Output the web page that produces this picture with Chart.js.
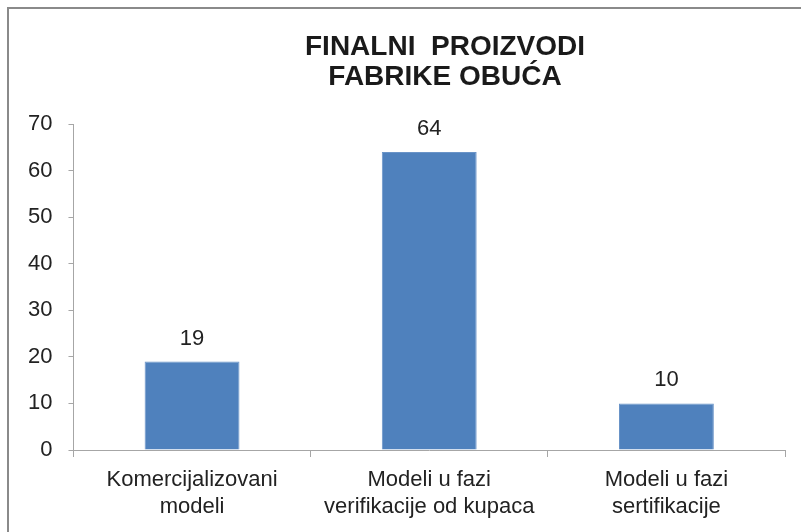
<!DOCTYPE html>
<html>
<head>
<meta charset="utf-8">
<script src="https://cdn.jsdelivr.net/npm/chart.js@4"></script>
<style>
    html, body { margin: 0; padding: 0; overflow: hidden; background: #fff; }
    #okvir { position: absolute; left: 7px; top: 7px; width: 830px; height: 560px; border: 2px solid #8a8a8a; }
    #platno { position: absolute; left: 0; top: 0; width: 801px; height: 532px; }
</style>
</head>
<body>
<div id="okvir"></div>
<div id="platno"><canvas id="grafikon" width="801" height="532"></canvas></div>
<script>
// Podaci sa grafikona
const kategorije = [
    ['Komercijalizovani', 'modeli'],
    ['Modeli u fazi', 'verifikacije od kupaca'],
    ['Modeli u fazi', 'sertifikacije']
];
const vrednosti = [19, 64, 10];
const naslov = ['FINALNI  PROIZVODI', 'FABRIKE OBUĆA'];
const osaY = [0, 10, 20, 30, 40, 50, 60, 70];

const font = '"Liberation Sans", Arial, sans-serif';

// Naslov - crta se centrirano iznad grafikona
const naslovPlugin = {
    id: 'naslovPlugin',
    afterDraw(chart) {
        const ctx = chart.ctx;
        ctx.save();
        ctx.fillStyle = '#1a1a1a';
        ctx.font = 'bold 28px ' + font;
        ctx.textAlign = 'center';
        ctx.textBaseline = 'middle';
        naslov.forEach((red, i) => {
            ctx.fillText(red, 445, 47 + i * 30);
        });
        ctx.restore();
    }
};

// Vrednosti iznad stubova
const vrednostiPlugin = {
    id: 'vrednostiPlugin',
    afterDatasetsDraw(chart) {
        const ctx = chart.ctx;
        const meta = chart.getDatasetMeta(0);
        ctx.save();
        ctx.fillStyle = '#222';
        ctx.font = '22px ' + font;
        ctx.textAlign = 'center';
        ctx.textBaseline = 'bottom';
        meta.data.forEach((bar, i) => {
            ctx.fillText(String(vrednosti[i]), bar.x, bar.y - 12);
        });
        ctx.restore();
    }
};

const ctx = document.getElementById('grafikon').getContext('2d');

window.grafikon = new Chart(ctx, {
    type: 'bar',
    data: {
        labels: kategorije,
        datasets: [{
            data: vrednosti,
            backgroundColor: '#4F81BD',
            borderColor: '#6a94c8',
            borderWidth: 1,
            categoryPercentage: 0.4,
            barPercentage: 1
        }]
    },
    options: {
        responsive: false,
        animation: false,
        layout: {
            padding: { top: 124, left: 12, right: 16, bottom: 2 }
        },
        scales: {
            x: {
                grid: {
                    display: true,
                    drawOnChartArea: false,
                    drawTicks: true,
                    tickLength: 7,
                    color: '#a6a6a6'
                },
                border: { display: true, color: '#a6a6a6', width: 1 },
                ticks: {
                    color: '#222',
                    font: { family: font, size: 22, lineHeight: 1.25 },
                    maxRotation: 0,
                    autoSkip: false,
                    padding: 9
                }
            },
            y: {
                min: 0,
                max: 70,
                afterBuildTicks: (axis) => {
                    axis.ticks = osaY.map(v => ({ value: v }));
                },
                grid: {
                    display: true,
                    drawOnChartArea: false,
                    drawTicks: true,
                    tickLength: 5,
                    color: '#a6a6a6'
                },
                border: { display: true, color: '#a6a6a6', width: 1 },
                ticks: {
                    color: '#222',
                    font: { family: font, size: 22 },
                    padding: 16
                }
            }
        },
        plugins: {
            legend: { display: false },
            title: { display: false },
            tooltip: { enabled: false }
        }
    },
    plugins: [naslovPlugin, vrednostiPlugin]
});
</script>
</body>
</html>
